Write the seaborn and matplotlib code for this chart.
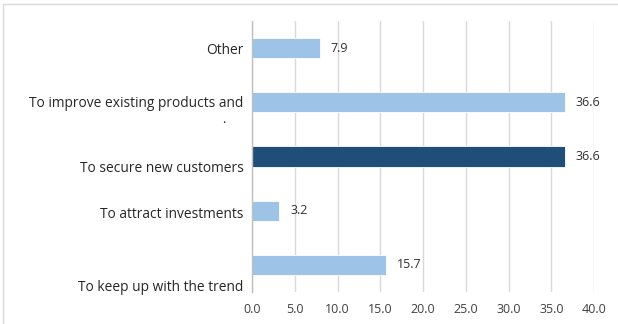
import matplotlib
matplotlib.use("Agg")
import matplotlib.pyplot as plt
import matplotlib.transforms as mtransforms
from matplotlib.patches import Rectangle
import seaborn as sns
import pandas as pd
import numpy as np

categories = [
    "Other",
    "To improve existing products and",
    "To secure new customers",
    "To attract investments",
    "To keep up with the trend",
]
values = [7.9, 36.6, 36.6, 3.2, 15.7]
highlight = [False, False, True, False, False]
x_ticks = [0, 5, 10, 15, 20, 25, 30, 35, 40]

light_blue = "#9DC3E6"
dark_blue = "#1F4E79"
text_grey = "#404040"
grid_grey = "#D9D9D9"

sns.set_theme(style="white")
plt.rcParams["font.family"] = ["Open Sans", "DejaVu Sans"]

df = pd.DataFrame({"category": categories, "value": values})
palette = {c: (dark_blue if h else light_blue) for c, h in zip(categories, highlight)}

fig = plt.figure(figsize=(6.18, 3.24), dpi=100)
ax = fig.add_axes([252 / 618, 1 - 292 / 324, (594 - 252) / 618, (292 - 21) / 324])

sns.barplot(data=df, x="value", y="category", hue="category", palette=palette,
            order=categories, width=0.37, legend=False, ax=ax,
            edgecolor="white", linewidth=0.6, saturation=1)

ax.set_xlim(0, 40)
ax.set_ylim(len(categories) - 0.5, -0.5)
ax.set_xticks(x_ticks)
ax.set_xticklabels([f"{t:.1f}" for t in x_ticks], color=text_grey, fontsize=9)
ax.set_xlabel("")
ax.set_ylabel("")
ax.xaxis.grid(True, color=grid_grey, linewidth=1)
ax.set_axisbelow(True)

for s in ["top", "right", "bottom"]:
    ax.spines[s].set_visible(False)
ax.spines["left"].set_color("#BFBFBF")
ax.spines["left"].set_linewidth(1)

ax.tick_params(axis="x", length=0, pad=8)
ax.tick_params(axis="y", which="major", length=0, pad=6)
ax.set_yticks(np.arange(-0.5, len(categories) + 0.5, 1), minor=True)
ax.tick_params(axis="y", which="minor", length=4, color="#BFBFBF", width=1)

ax.set_yticks(range(len(categories)))
ax.set_yticklabels(categories, fontsize=9.9, color="#262626")

# vertical offsets of category labels in pixels (positive = down)
label_shift = [0, -1, 10, 2, 21]
for lab, dy in zip(ax.get_yticklabels(), label_shift):
    lab.set_transform(lab.get_transform() +
                      mtransforms.ScaledTranslation(0, -dy / 100, fig.dpi_scale_trans))

# stray continuation mark of the wrapped label
ax.text(-28 / 8.55, 1.32, ".", fontsize=9, color="#262626", ha="center", va="center",
        clip_on=False)

for i, v in enumerate(values):
    ax.text(v, i, f"{v:.1f}", transform=ax.transData + mtransforms.ScaledTranslation(
        11 / 100, 0, fig.dpi_scale_trans), fontsize=9, color="#303030",
        ha="left", va="center")

# outer chart frame
fig.patches.append(Rectangle((3 / 618, -0.1), 1, 1 - 4 / 324 + 0.1, transform=fig.transFigure,
                             fill=False, edgecolor="#D9D9D9", linewidth=1))

fig.savefig("out.png", dpi=100)
